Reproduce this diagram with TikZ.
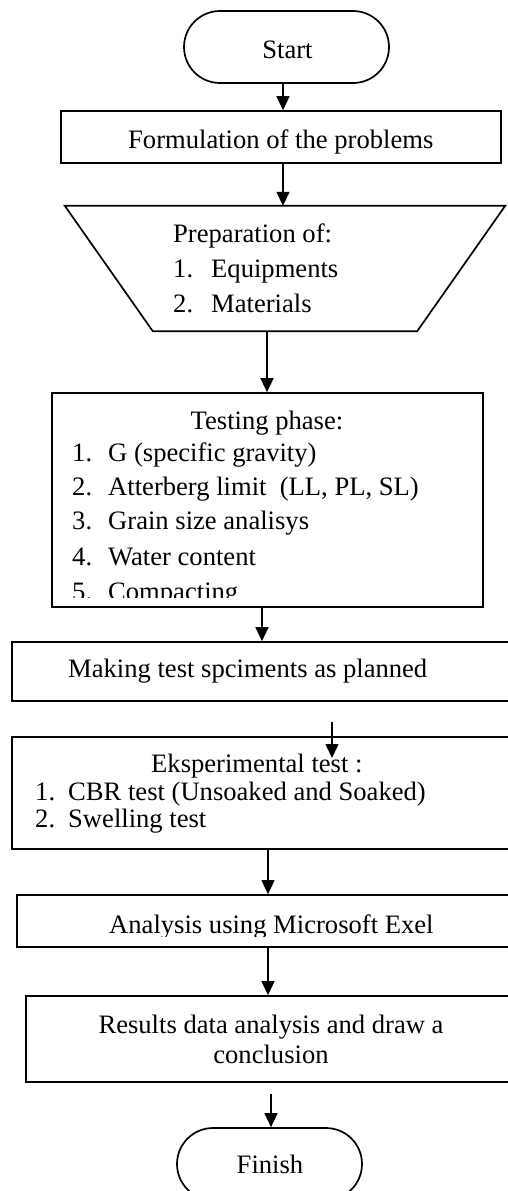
\documentclass[tikz,border=0pt]{standalone}
\usepackage{fontspec}
\setmainfont{Liberation Serif}
\usetikzlibrary{arrows.meta,calc}
\begin{document}
\begin{tikzpicture}[x=1pt,y=-1pt,
  txt/.style={inner sep=0pt,font=\fontsize{26.6}{30}\selectfont},
  box/.style={draw,line width=1.7pt,inner sep=0pt},
  arr/.style={line width=1.5pt,-{Triangle[length=14pt,width=13pt]}}]
\useasboundingbox (0,0) rectangle (508,1191);
\clip (0,0) rectangle (508,1191);
\fill[white] (0,0) rectangle (508,1191);
% shapes
\node[box,rounded corners=36pt,minimum width=205pt,minimum height=72pt] (start) at (286.5,47) {};
\node[box,minimum width=440pt,minimum height=52pt] (form) at (281,137) {};
\node[minimum width=440pt,minimum height=125pt,inner sep=0pt] (prep) at (285,268.5) {};
\draw[line width=1.7pt] (prep.north west) -- (prep.north east) -- ($(prep.south east)+(-88,0)$) -- ($(prep.south west)+(88,0)$) -- cycle;
\node[box,minimum width=431pt,minimum height=214pt] (test) at (267.5,500) {};
\node[box,minimum width=508pt,minimum height=59pt] (make) at (266,671.5) {};
\node[box,minimum width=508pt,minimum height=112pt] (exper) at (266,793) {};
\node[box,minimum width=503pt,minimum height=52pt] (anal) at (268.5,921) {};
\node[box,minimum width=494pt,minimum height=86pt] (res) at (273,1039) {};
\node[box,rounded corners=36pt,minimum width=185pt,minimum height=72pt] (fin) at (269.5,1164) {};
% texts
\node[txt,anchor=base] (tstart) at (287.5,58) {Start};
\node[txt,anchor=base west] (tform) at (128,148) {Formulation of the problems};
\node[txt,anchor=base west] (tprep) at (173,242) {Preparation of:};
\node[txt,anchor=base west] (np1) at (173,277) {1.};
\node[txt,anchor=base west] (ip1) at (211,277) {Equipments};
\node[txt,anchor=base west] (np2) at (173,312) {2.};
\node[txt,anchor=base west] (ip2) at (211,312) {Materials};
\begin{scope}
\clip (52,393) rectangle (483,597);
\node[txt,anchor=base] (ttest) at (267,429) {Testing phase:};
\node[txt,anchor=base west] (nt1) at (72,461) {1.};
\node[txt,anchor=base west] (it1) at (108,461) {G (specific gravity)};
\node[txt,anchor=base west] (nt2) at (72,495) {2.};
\node[txt,anchor=base west] (it2) at (108,495) {Atterberg limit\ \ (LL, PL, SL)};
\node[txt,anchor=base west] (nt3) at (72,529) {3.};
\node[txt,anchor=base west] (it3) at (108,529) {Grain size analisys};
\node[txt,anchor=base west] (nt4) at (72,565) {4.};
\node[txt,anchor=base west] (it4) at (108,565) {Water content};
\node[txt,anchor=base west] (nt5) at (72,600) {5.};
\node[txt,anchor=base west] (it5) at (108,600) {Compacting};
\end{scope}
\node[txt,anchor=base west] (tmake) at (68,677) {Making test spciments as planned};
\node[txt,anchor=base west] (texper) at (151,772) {Eksperimental test :};
\node[txt,anchor=base west] (ne1) at (35,800) {1.};
\node[txt,anchor=base west] (ie1) at (68,800) {CBR test (Unsoaked and Soaked)};
\node[txt,anchor=base west] (ne2) at (35,827) {2.};
\node[txt,anchor=base west] (ie2) at (68,827) {Swelling test};
\begin{scope}
\clip (17,895) rectangle (508,936);
\node[txt,anchor=base west] (tanal) at (109,933) {Analysis using Microsoft Exel};
\end{scope}
\node[txt,anchor=base] (tres1) at (271,1033) {Results data analysis and draw a};
\node[txt,anchor=base] (tres2) at (271,1063) {conclusion};
\node[txt,anchor=base] (tfin) at (270,1173) {Finish};
% connector x positions
\coordinate (x1) at (283,0);
\coordinate (x3) at (267,0);
\coordinate (x4) at (262,0);
\coordinate (x6) at (268,0);
\coordinate (c5s) at (332,722);
\coordinate (c5e) at (332,758);
\coordinate (c8s) at (271,1094);
% connectors
\draw[arr] (start.south -| x1) -- (form.north -| x1);
\draw[arr] (form.south -| x1) -- (prep.north -| x1);
\draw[arr] (prep.south -| x3) -- (test.north -| x3);
\draw[arr] (test.south -| x4) -- (make.north -| x4);
\draw[arr] (c5s) -- (c5e);
\draw[arr] (exper.south -| x6) -- (anal.north -| x6);
\draw[arr] (anal.south -| x6) -- (res.north -| x6);
\draw[arr] (c8s) -- (fin.north -| c8s);
\end{tikzpicture}
\end{document}
